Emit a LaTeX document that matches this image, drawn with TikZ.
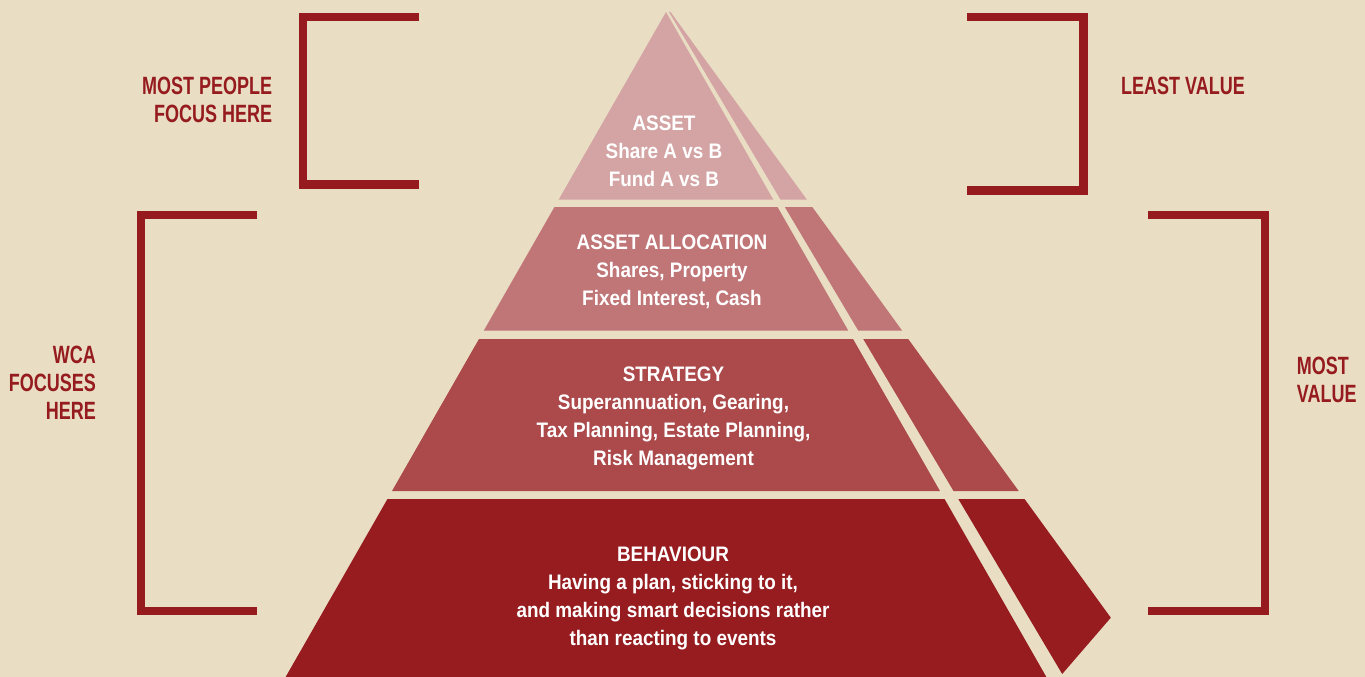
\documentclass[tikz,border=0pt]{standalone}
\usepackage{fontspec}
\newfontfamily\pyrfont[FakeStretch=0.9,UprightFont={* Bold}]{Liberation Sans}
\newfontfamily\lblfont[FakeStretch=0.72,UprightFont={* Bold}]{Liberation Sans}
\definecolor{bg}{HTML}{E9DEC4}
\definecolor{tone1}{HTML}{D4A4A4}
\definecolor{tone2}{HTML}{C07577}
\definecolor{tone3}{HTML}{AB494B}
\definecolor{tone4}{HTML}{961C20}
\definecolor{wcared}{HTML}{961B1F}
\begin{document}
\begin{tikzpicture}[x=1pt,y=-1pt,
  tiertext/.style={text=white, font=\pyrfont\fontsize{21}{28}\selectfont, align=center, inner sep=0pt, anchor=base},
  lbl/.style={text=wcared, font=\lblfont\fontsize{25}{28.2}\selectfont, inner sep=0pt},
  brk/.style={draw=wcared, line width=8.7pt, line join=miter, line cap=butt}]
\fill[bg] (0,0) rectangle (1365,677);
\useasboundingbox (0,0) rectangle (1365,677);
% front faces
\fill[tone1] (666,12) -- (773.25,199.5) -- (558.75,199.5) -- cycle;
\fill[tone2] (554.46,207) -- (777.54,207) -- (848.18,330.5) -- (483.82,330.5) -- cycle;
\fill[tone3] (478.96,339) -- (853.04,339) -- (939.99,491) -- (392.01,491) -- cycle;
\fill[tone4] (387.44,499) -- (944.56,499) -- (1046.38,677) -- (285.62,677) -- cycle;
% side faces
\fill[tone1] (669,12) -- (670.5,12) -- (806.8,199.5) -- (780.4,199.5) -- cycle;
\fill[tone2] (784.8,207) -- (812.3,207) -- (902.05,330.5) -- (858.2,330.5) -- cycle;
\fill[tone3] (863.2,339) -- (908.2,339) -- (1018.7,491) -- (953.5,491) -- cycle;
\fill[tone4] (958.3,499) -- (1024.55,499) -- (1110.8,617.7) -- (1062.2,674) -- cycle;
% brackets
\draw[brk] (419,17) -- (303,17) -- (303,184.3) -- (419,184.3);
\draw[brk] (967.3,17) -- (1083.7,17) -- (1083.7,190.3) -- (967.3,190.3);
\draw[brk] (256.7,215) -- (141,215) -- (141,611) -- (256.7,611);
\draw[brk] (1148.3,215) -- (1265,215) -- (1265,611) -- (1148.3,611);
% tier texts (anchor = baseline of last line)
\node[tiertext] (asset) at (664,186) {ASSET\\Share A vs B\\Fund A vs B};
\node[tiertext] (alloc) at (672,305.3) {ASSET ALLOCATION\\Shares, Property\\Fixed Interest, Cash};
\node[tiertext] (strat) at (673.5,465.7) {STRATEGY\\Superannuation, Gearing,\\Tax Planning, Estate Planning,\\Risk Management};
\node[tiertext] (behav) at (673,645) {BEHAVIOUR\\Having a plan, sticking to it,\\and making smart decisions rather\\than reacting to events};
% labels
\node[lbl, anchor=base east, align=right] (most) at (272.3,122.2) {MOST PEOPLE\\FOCUS HERE};
\node[lbl, anchor=base west, align=left] (least) at (1121,94) {LEAST VALUE};
\node[lbl, anchor=base east, align=right] (wca) at (96,419.7) {WCA\\FOCUSES\\HERE};
\node[lbl, anchor=base west, align=left] (mostv) at (1296.7,402.5) {MOST\\VALUE};
\end{tikzpicture}
\end{document}
